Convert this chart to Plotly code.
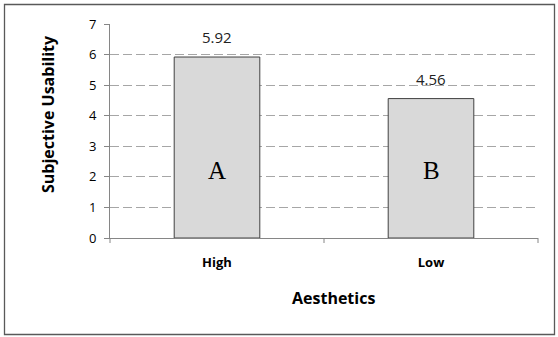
import plotly.graph_objects as go

# Mean subjective usability by aesthetics level
categories = ["High", "Low"]
usability = [5.92, 4.56]
group_letters = ["A", "B"]
y_ticks = [0, 1, 2, 3, 4, 5, 6, 7]

W, H = 558, 337
M_L, M_R, M_T, M_B = 110, 20, 24, 99
plot_w = W - M_L - M_R
plot_h = H - M_T - M_B

font_main = "Open Sans, Noto Sans, DejaVu Sans, sans-serif"


def px_x(p):
    """Pixel column -> paper x."""
    return (p - M_L) / plot_w


def px_y(p):
    """Pixel row -> paper y."""
    return (H - M_B - p) / plot_h


fig = go.Figure()
fig.add_trace(go.Bar(
    x=categories,
    y=usability,
    width=0.4,
    marker=dict(color="#d9d9d9", line=dict(color="#404040", width=1)),
    hoverinfo="skip",
))

# Value labels above each bar
for cat, val in zip(categories, usability):
    fig.add_annotation(x=cat, y=val, text=f"{val:.2f}", showarrow=False,
                       yanchor="bottom", yshift=8,
                       font=dict(family=font_main, size=15, color="#222222"))

# Group letters inside the bars
for cat, letter in zip(categories, group_letters):
    fig.add_annotation(x=cat, y=2.2, text=letter, showarrow=False,
                       font=dict(family="Liberation Serif, Times New Roman, serif",
                                 size=25, color="#000000"))

# Axis titles
title_font = dict(size=16, family=font_main, color="#000000", weight="bold")
fig.add_annotation(xref="paper", yref="paper", x=px_x(333), y=px_y(298),
                   xanchor="center", yanchor="middle",
                   text="Aesthetics", showarrow=False, font=title_font)
fig.add_annotation(xref="paper", yref="paper", x=px_x(48), y=px_y(114),
                   xanchor="center", yanchor="middle",
                   text="Subjective Usability", showarrow=False, textangle=-90,
                   font=title_font)

# Outer chart frame
fig.add_shape(type="rect", xref="paper", yref="paper",
              x0=px_x(4.5), x1=px_x(554.5), y0=px_y(334.5), y1=px_y(4.5),
              line=dict(color="#595959", width=1.3), layer="below")

# Category boundary tick marks on the x axis
for xp in [0, 0.5, 1]:
    fig.add_shape(type="line", xref="paper", yref="paper",
                  x0=xp, x1=xp, y0=0, y1=px_y(H - M_B + 5),
                  line=dict(color="#868686", width=1))

fig.update_layout(
    width=W, height=H,
    margin=dict(l=M_L, r=M_R, t=M_T, b=M_B),
    paper_bgcolor="white", plot_bgcolor="white",
    showlegend=False,
    font=dict(family=font_main, color="#000000"),
    xaxis=dict(
        type="category",
        range=[-0.5, 1.5],
        showline=True, linecolor="#868686", linewidth=1,
        ticks="", showgrid=False,
        tickfont=dict(size=13, family=font_main, color="#000000", weight="bold"),
        ticklabelstandoff=12,
        fixedrange=True,
    ),
    yaxis=dict(
        range=[0, 7],
        tickvals=y_ticks,
        showline=True, linecolor="#868686", linewidth=1,
        ticks="outside", ticklen=5, tickcolor="#868686",
        showgrid=True, gridcolor="#a6a6a6", gridwidth=1, griddash="9px,4px",
        zeroline=False,
        tickfont=dict(size=13, family=font_main, color="#000000"),
        ticklabelstandoff=5,
        fixedrange=True,
    ),
)

fig.write_html("out.html")
